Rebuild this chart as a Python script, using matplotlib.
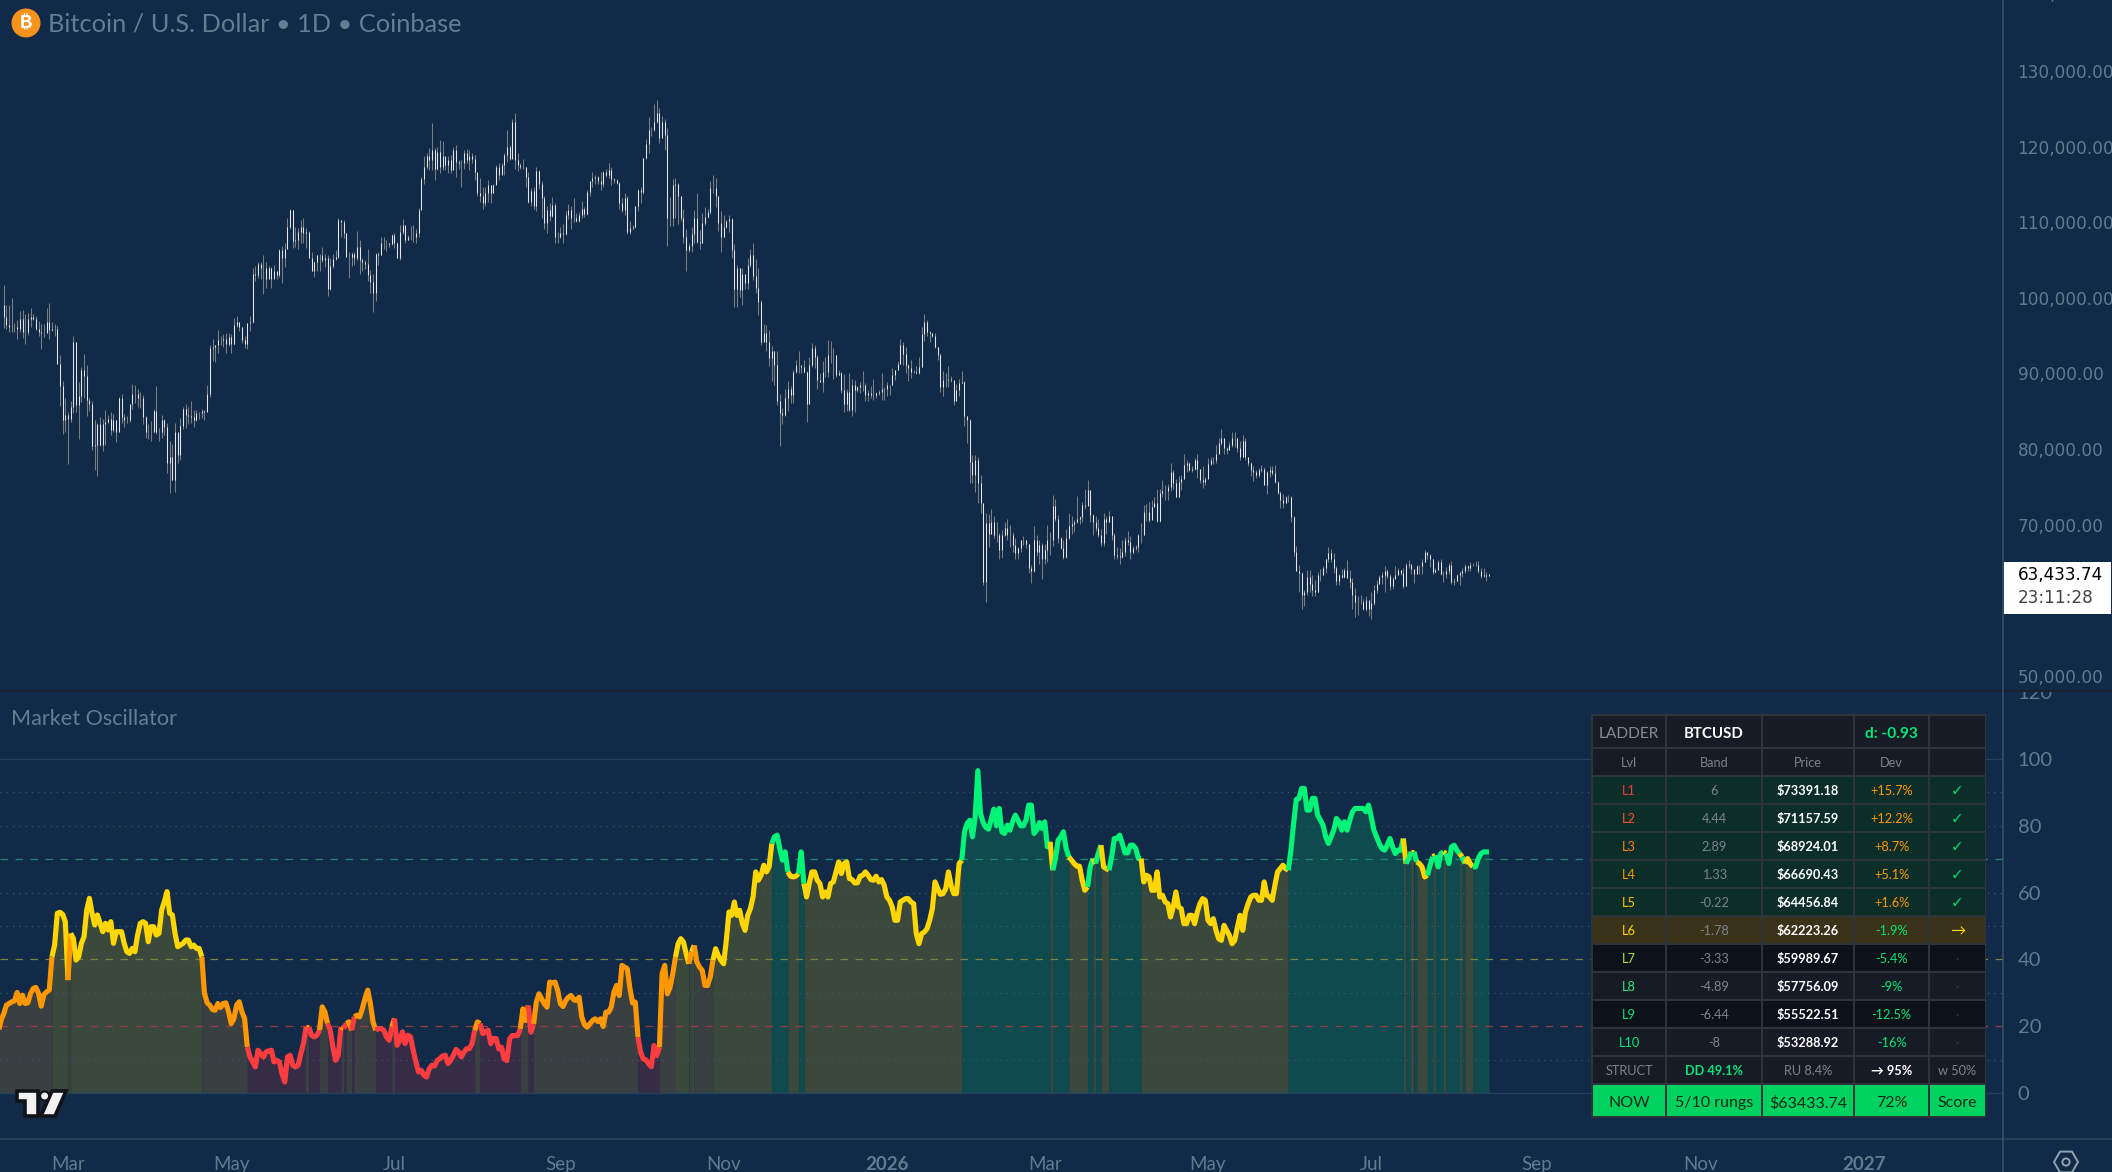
import datetime as dt
import numpy as np
import matplotlib
matplotlib.use("Agg")
import matplotlib.pyplot as plt
import matplotlib.dates as mdates
from matplotlib.patches import Rectangle, Circle, Polygon, RegularPolygon
from matplotlib.transforms import Bbox, TransformedBbox

W, H = 2112, 1172
BG = "#102a48"
UI = ["Lato", "DejaVu Sans"]

# daily bars in thousand USD
highs_a = [101.7,99.0,99.0,100.0,96.7,97.1,98.2,98.4,97.9,98.0,
98.7,97.8,97.6,96.9,96.5,96.6,98.6,99.3,96.8,96.5,
96.3,92.4,89.0,86.8,84.9,86.3,94.9,94.2,88.8,90.8,
92.6,91.1,86.7,86.3,83.8,83.4,84.2,84.0,85.1,84.5,
84.9,84.6,83.9,86.9,87.3,84.6,84.3,85.9,88.6,88.4,
88.0,87.6,87.2,84.3,83.3,83.7,85.3,88.3,82.8,84.5,
84.0,83.5,81.0,80.7,83.4,80.7,84.1,85.6,85.9,85.6,
86.3,85.2,85.2,84.9,85.3,85.1,88.4,93.7,94.5,93.8,
95.8,95.0,95.2,95.4,95.3,95.2,97.3,97.6,96.8,96.1,
95.0,96.7,97.6,104.0,104.2,104.8,104.8,105.6,104.8,104.2,
104.1,104.4,103.5,106.5,106.9,107.2,110.6,111.8,111.6,109.3,
109.2,110.3,110.6,109.2,108.8,106.1,104.9,105.7,105.8,106.7,
105.8,105.7,105.2,105.8,106.3,110.5,110.3,110.3,108.6,106.0,
106.0,106.0,108.8,107.6,105.3,105.0,106.4,103.7,103.2,105.9,
106.1,108.0,108.1,107.6,107.3,108.4,108.6,107.4,109.6,110.4,
109.5,108.3,109.5,109.6,109.1,111.9]
lows_a = [96.0,95.9,95.5,95.5,95.5,94.5,95.5,94.7,93.9,95.1,
96.1,97.1,95.8,95.0,93.2,94.8,96.2,94.5,95.6,95.0,
91.2,85.7,82.0,82.3,78.0,83.6,84.8,84.9,81.3,86.2,
86.8,84.3,85.0,79.9,77.2,76.4,80.4,79.7,80.5,83.4,
81.9,82.2,80.9,82.4,83.4,82.9,83.4,83.6,85.3,86.1,
85.5,85.4,83.3,81.5,81.3,81.1,82.2,82.0,81.1,81.5,
81.9,76.8,74.2,75.9,74.3,78.2,78.6,82.7,82.8,83.3,
83.4,82.9,83.7,84.0,84.1,83.8,84.9,86.9,91.7,91.5,
92.7,93.7,93.5,92.7,93.6,92.7,93.9,96.1,95.6,94.0,
93.3,93.2,95.6,96.7,102.2,102.6,102.5,100.5,101.3,102.5,
101.3,103.0,102.5,102.8,102.0,104.1,106.5,109.1,106.6,106.7,
106.4,107.3,107.3,106.6,105.2,103.5,102.8,103.5,103.5,104.7,
104.1,100.2,101.0,103.9,105.0,105.3,108.1,107.9,105.4,102.6,
104.2,104.4,105.0,103.1,103.5,103.8,102.2,100.7,98.1,99.6,
104.4,105.7,106.4,106.2,106.7,107.0,106.6,105.2,105.0,108.5,
107.2,107.6,107.6,107.4,107.3,108.1]
closes_a = [97.5,96.4,96.2,96.2,96.2,95.9,97.2,95.5,95.5,97.2,
97.5,97.2,95.9,95.5,95.3,95.3,96.8,95.7,95.9,95.9,
91.3,88.3,83.8,84.5,84.0,85.6,94.2,85.8,87.0,90.4,
89.6,86.5,86.0,80.4,80.5,83.3,80.5,83.3,83.6,84.0,
82.5,83.8,82.2,86.8,84.2,83.8,83.8,85.9,87.3,87.3,
86.7,86.7,84.2,82.3,82.3,82.3,85.0,82.2,82.2,83.8,
82.9,78.1,78.9,75.9,82.2,79.2,83.1,85.3,84.5,84.3,
84.2,83.8,84.7,84.7,85.0,84.9,87.3,93.3,93.5,93.7,
94.4,94.4,94.6,93.9,94.8,93.9,96.4,96.8,96.1,94.4,
93.9,96.7,96.8,103.2,103.0,104.5,103.9,103.9,102.5,103.9,
102.5,103.6,103.0,106.3,105.2,106.5,109.4,111.6,107.5,107.6,
108.7,109.3,108.6,108.7,105.3,103.6,104.7,105.6,105.6,105.0,
105.2,101.2,104.2,105.1,105.4,110.3,110.0,108.6,105.4,105.4,
105.8,105.2,106.7,105.0,104.7,104.5,103.0,102.1,100.6,105.8,
105.6,107.3,107.2,107.2,107.1,108.3,107.2,105.2,108.7,109.6,
107.7,108.0,108.0,108.0,108.6,111.6]

highs_b = [116.0,118.7,119.1,119.8,123.1,119.8,120.0,120.9,120.7,118.2,
118.7,118.9,120.0,120.2,118.2,118.2,119.5,119.7,119.5,119.1,
118.9,115.8,115.8,114.7,114.7,115.6,114.9,115.1,117.6,117.8,117.8]
lows_b = [112.0,115.1,117.1,116.9,116.9,115.6,116.9,116.5,116.9,116.9,
116.5,116.5,116.9,116.0,117.1,114.7,117.1,117.8,116.9,117.8,
115.6,113.4,112.7,111.8,112.1,112.7,112.5,113.8,115.1,115.6,116.5]
closes_b = [115.7,117.3,118.7,118.2,119.5,117.1,119.3,117.3,118.7,117.6,
118.2,116.9,119.5,118.0,117.8,117.8,119.1,118.2,118.7,118.4,
116.7,113.8,113.4,112.5,113.8,114.9,113.8,114.9,117.3,116.2,117.6]

highs_c = [119.1,122.2,120.2,123.7,124.4,119.1,117.8,118.4,117.3,116.6,
114.5,114.6,117.3,116.9,115.4,113.5,112.2,112.5,113.3,112.5,
108.7,109.3,109.8,111.5,112.4,112.1,113.2,111.2,111.4,112.8,
112.0,114.3,115.4,116.6,116.2,116.1,116.6,116.8,117.1,117.8,
117.3,115.9,115.7,115.3,113.2,113.8,113.5,110.2,109.6,112.2,
114.4,114.6,118.5,121.0,123.9,122.6,125.6,126.2,125.1,124.0,
123.7,122.4,113.3,115.7,115.9,115.2,113.4,111.8,109.1,107.3,
109.3,111.6,113.8,109.0,111.2,112.0,111.8,115.5,116.2,115.9,
113.5,111.5,111.0,110.3,111.0,110.5,107.1,104.3,104.0,103.9,
103.2,105.2,106.4,107.3,105.1,104.0,99.7,96.5,96.4,95.7,
93.6,92.9,93.0,87.3,85.4,87.9,89.0,88.3,90.4,91.8,
93.0,91.0,91.8,90.3,92.2,94.0,93.8,92.5,90.1,91.6,
92.2,94.4,94.3,93.3,92.4,90.5,90.2,89.9,87.9,90.1,
89.2,89.1,88.3,88.8,90.3,88.7,87.8,88.3,89.3,87.6,
87.8,90.1,88.2,88.9,88.5,90.7,90.5,91.6,94.6,94.2,
93.5,91.3,91.8,90.5,91.0,92.2,96.1,97.9,97.1,95.6,
95.4,95.3,93.5,92.7,90.3,90.0,91.0,89.6,88.9,88.6,
89.2,90.3,89.0,84.4,84.0,79.2,79.2,78.9,76.6,72.9,
71.5,71.4,72.0,71.1,70.3,68.9]
lows_c = [116.2,118.0,118.2,118.8,117.0,116.8,117.0,117.0,114.6,112.6,
112.2,111.7,111.5,114.4,110.5,109.1,108.6,110.1,110.7,107.3,
107.3,107.9,107.2,108.3,110.4,109.1,110.0,110.0,110.0,110.6,
110.7,110.9,113.4,114.7,115.1,115.1,114.3,114.6,116.0,115.8,
114.9,115.2,115.1,111.7,111.4,111.0,108.5,108.4,109.0,109.2,
111.5,112.6,113.7,118.3,119.1,121.4,122.1,123.1,120.5,121.1,
119.5,106.9,109.5,109.5,110.5,109.8,110.1,107.3,103.5,106.1,
106.0,107.2,107.3,106.5,107.3,109.6,110.6,111.1,113.8,112.0,
108.9,106.0,108.0,109.2,108.7,105.2,98.8,98.8,100.1,99.1,
101.2,101.2,104.1,102.3,100.7,97.7,93.8,94.1,92.9,91.0,
89.0,88.4,85.8,80.4,83.3,84.4,85.0,86.1,86.1,90.0,
90.1,90.1,90.1,83.6,85.9,90.9,90.7,88.0,88.8,87.6,
89.5,89.5,91.4,89.2,89.5,89.8,87.4,84.9,85.0,85.0,
84.3,84.9,87.6,87.4,87.7,86.3,86.3,86.8,86.5,86.7,
87.1,86.5,86.5,87.0,87.1,88.5,89.1,90.4,91.2,91.1,
90.0,89.0,89.4,90.0,89.9,89.9,90.8,94.3,95.0,94.1,
94.8,93.4,91.8,87.6,87.0,88.2,88.2,88.8,85.8,86.3,
87.0,88.7,83.1,80.8,75.5,75.5,74.3,72.8,71.6,62.0,
59.8,67.1,68.8,68.2,67.7,65.4]
closes_c = [118.9,120.0,118.4,123.3,118.2,117.6,117.3,117.3,116.0,112.7,
114.1,112.1,116.8,115.1,113.2,109.9,111.6,110.8,112.3,108.1,
108.1,108.6,108.5,111.0,111.6,110.5,110.5,110.1,111.0,111.8,
111.1,114.0,115.4,115.9,116.0,115.4,115.1,116.7,116.2,116.9,
115.7,115.6,115.2,112.5,111.6,113.2,108.7,109.2,109.4,112.1,
114.3,114.0,118.5,120.4,122.2,122.2,123.3,124.5,121.1,123.2,
121.5,110.5,110.5,114.9,115.1,113.4,110.6,108.1,106.3,106.8,
108.5,110.5,107.4,107.2,109.9,110.7,111.4,114.5,114.5,113.4,
109.9,108.1,109.4,110.1,110.4,106.3,101.2,103.9,101.0,103.1,
102.0,104.3,105.7,102.9,101.3,99.5,94.2,95.3,94.2,92.0,
92.9,91.1,86.3,84.7,84.5,86.7,88.0,87.1,90.2,91.1,
91.1,90.9,90.2,86.0,91.1,93.3,92.2,89.1,88.9,90.2,
90.2,92.4,92.4,92.4,89.8,90.0,87.8,86.0,87.6,85.2,
88.5,87.8,88.2,88.5,88.5,87.1,87.4,87.1,87.1,87.4,
87.6,88.0,88.0,88.5,88.5,89.8,90.4,91.3,93.8,92.6,
91.1,90.7,90.2,90.2,90.1,90.9,95.2,96.8,95.5,95.3,
95.0,93.5,92.4,88.2,89.1,89.1,89.2,89.1,86.3,87.8,
88.7,88.9,84.3,83.9,78.3,76.6,78.5,75.5,72.8,62.4,
70.2,68.8,70.4,68.6,68.6,66.6]

highs_d = [69.3,70.3,70.7,70.0,69.0,68.2,67.1,68.0,68.5,68.0,
67.4,64.7,69.8,68.6,68.0,67.6,67.4,69.9,69.0,73.9,
73.4,71.3,68.4,68.0,69.4,71.6,71.1,70.6,73.8,71.1,
73.0,74.7,75.9,74.6,71.4,71.1,70.8,69.4,71.6,71.1,
71.8,71.2,68.9,67.1,66.9,68.0,68.4,69.1,68.5,67.2,
67.3,68.8,70.2,72.6,72.7,73.0,73.3,73.6,74.7,74.7,
75.9,75.2,75.4,78.2,77.2,76.0,76.4,76.6,79.3,78.5,
78.3,77.7,78.8,79.3,77.3,77.8,76.3,78.8,78.9,79.0,
80.5,81.5,82.6,81.5,80.2,80.9,82.2,82.2,81.5,81.0,
81.9,81.4,79.0,78.3,77.7,77.2,77.5,77.9,77.6,77.1,
77.7,77.7,77.9,75.8,74.4,74.1,73.8,73.9,73.8,71.1,
67.2,64.6,63.7,61.3,64.0,64.0,63.3,62.7,63.7,64.1,
64.5,65.5,67.0,66.8,66.2,64.5,63.5,64.1,64.2,65.3,
64.0,62.9,61.6,60.5,60.7,60.2,60.5,60.0,61.1,62.0,
62.7,63.3,63.7,64.5,64.1,63.5,63.1,64.5,64.2,64.0,
64.2,64.9,65.3,64.7,64.1,64.7,64.7,65.5,66.7,66.4,
66.1,65.5,64.2,65.3,65.4,63.8,64.4,64.9,65.2,62.9,
63.5,63.9,64.2,64.8,64.7,65.1,64.9,65.2,65.2,64.2,
64.2,63.7,63.5]
lows_d = [65.6,68.5,67.9,67.1,66.4,65.5,65.4,66.4,67.3,66.9,
63.6,62.3,63.7,65.8,64.8,62.8,64.8,65.1,66.0,67.2,
70.5,67.6,66.8,65.5,65.6,68.1,68.8,69.0,70.2,70.1,
70.3,72.1,73.2,70.4,68.6,69.2,68.3,67.2,67.2,68.8,
70.3,68.0,65.4,65.4,64.8,65.6,65.8,67.3,65.5,66.1,
66.6,66.4,67.6,68.6,70.5,70.4,71.3,72.3,70.4,70.4,
73.7,73.3,73.2,74.4,74.7,73.6,73.6,74.6,76.0,76.9,
77.1,77.0,77.2,76.1,75.5,74.8,75.2,76.1,77.9,78.0,
78.1,79.6,80.5,79.4,79.4,79.9,80.3,80.3,79.6,78.5,
78.9,78.5,77.7,76.4,75.8,76.1,76.3,77.0,75.2,74.0,
76.3,76.6,75.5,74.0,72.2,72.2,72.9,73.0,70.4,65.8,
63.8,61.1,58.9,59.2,60.7,61.1,60.6,60.6,61.1,62.6,
63.3,63.6,65.1,65.1,63.6,62.0,62.0,63.0,62.9,62.9,
61.6,58.9,57.8,58.0,59.5,58.7,58.6,57.9,57.5,59.4,
61.0,62.2,62.2,61.1,62.9,61.3,61.5,62.8,63.4,63.3,
61.6,61.9,64.3,63.4,62.3,63.5,63.5,63.5,65.0,65.4,
64.4,63.5,63.6,64.0,63.3,62.4,63.0,63.4,62.1,62.0,
62.5,62.0,63.1,63.6,63.9,63.9,64.5,64.5,63.6,63.0,
63.1,62.5,63.3]
closes_d = [68.6,69.5,68.6,68.6,67.3,66.2,66.9,67.9,68.0,67.4,
64.2,63.8,67.9,66.4,67.3,65.5,66.6,68.0,68.0,72.4,
70.8,68.2,66.9,65.7,68.2,69.8,70.1,70.3,70.8,71.0,
72.6,72.4,74.6,71.3,70.4,69.5,68.6,67.5,70.8,70.3,
71.1,68.6,66.0,65.8,65.7,66.4,68.0,67.7,66.4,66.9,
67.1,68.6,68.6,71.7,71.7,70.6,72.3,72.9,70.5,74.2,
74.4,74.5,75.0,77.0,75.5,73.6,75.7,76.0,77.9,78.1,
77.2,77.3,78.5,77.3,75.9,75.7,76.0,78.0,78.5,78.6,
79.4,80.8,81.4,80.1,79.9,80.5,81.4,81.5,80.1,79.0,
81.0,78.9,78.1,77.2,77.0,76.6,77.2,77.3,75.2,77.0,
77.2,76.8,75.7,74.2,73.3,72.9,73.6,73.7,71.0,66.4,
63.8,63.6,60.7,61.1,63.1,62.2,61.3,61.1,63.3,63.3,
64.2,65.4,66.2,65.5,64.2,62.6,63.3,63.1,64.0,63.0,
62.4,60.7,59.8,59.7,59.7,58.9,60.0,58.9,59.6,61.3,
62.2,63.1,63.3,63.9,63.2,61.9,62.8,63.3,64.0,63.6,
61.9,64.7,64.8,64.1,63.5,64.5,64.5,65.1,66.4,66.0,
65.4,63.7,64.0,65.1,63.5,63.5,63.8,64.7,62.4,62.6,
63.3,63.6,63.9,64.5,64.2,64.7,64.7,64.7,63.8,63.2,
63.3,63.2,63.43]

# oscillator line, one value per bar
osc_a = [18.3,21.8,23.8,26.3,26.8,27.3,27.6,30.1,26.8,29.3,26.8,27.0,29.8,31.3,31.6,29.8,26.0,29.5,30.3,30.8,
40.8,44.3,53.8,54.1,53.5,51.3,33.8,47.8,46.3,39.8,40.8,44.8,46.8,54.8,58.3,53.8,50.3,53.3,50.8,48.3,
50.8,48.8,51.3,44.8,48.3,48.3,48.3,44.8,42.3,41.8,43.3,42.3,47.3,50.8,51.3,50.8,45.3,49.8,49.8,47.3,
47.8,54.8,57.3,60.3,53.8,53.3,47.8,43.8,44.3,44.8,45.8,45.8,43.8,44.3,43.3,43.3,40.8,29.8,27.0,26.3,
25.0,24.8,26.8,25.6,26.8,27.0,24.3,20.8,22.3,26.3,27.3,24.3,22.3,13.8,10.8,9.3,7.8,12.8,11.8,10.8,
12.3,12.6,12.8,9.3,9.8,9.3,5.8,3.3,10.8,11.3,8.3,7.8,8.3,11.8,14.8,19.8,19.8,17.3,16.8,17.3,
18.8,25.8,24.3,20.8,18.8,13.8,9.8,11.3,19.8,19.3,20.8,21.3,18.8,22.8,23.3,22.8,25.3,28.3,30.8,26.8,
21.3,18.8,19.3,19.3,18.8,16.8,15.8,19.8,22.3,14.3,15.8,18.3,14.8,17.3,16.8,12.8,9.3,6.3,6.8,5.3,
4.8,7.3,8.3,8.1,9.8,10.3,11.1,11.3,8.8,9.8,11.3,13.0,12.3,10.8,12.3,13.3,13.3,14.8,18.8,21.3,
20.8,17.8,18.3,18.8,14.8,16.3,16.3]
osc_b = [13.2,13.7,10.2,9.7,16.2,17.2,17.2,17.2,19.2,25.2,21.7,26.2,18.2,20.7,27.2,29.7,28.2,26.7,25.7,33.2,
33.0,33.2,30.7,26.7,25.9,27.7,28.7,29.2,27.9,27.7,28.7,22.7,20.5,19.7,20.7,21.7,22.2,21.4,22.2,19.9,
24.2,24.2,25.7,30.2,32.2,29.2,38.2,37.7,37.2,31.2,26.9,27.2,16.7,12.2,10.2,9.9,8.7,7.9,14.2,11.2,
13.7,35.7,38.2,29.7,31.7,35.7,40.7,44.7,46.2,45.2,41.7,38.7,42.2,44.2,39.2,37.7,36.7,32.2,32.2,34.7,
39.7,43.2,41.2,39.7,38.7,45.7,54.2,53.2,57.2,53.2,54.7,50.7,48.7,53.2,55.2,58.7,66.2,63.7,65.2,68.2,
66.2,67.7,74.7,76.7,77.2,73.2,69.7,72.2,66.2,64.9,64.7,64.9,65.7,72.2,62.7,58.7,62.7,66.2,66.2,63.7,
62.7,58.7,60.2,58.7,62.7,63.2,66.2,69.2,65.7,68.7,69.2,64.2,63.9,62.9,62.9,64.9,65.2,66.2,65.2,63.9,
63.7,64.9,63.2,63.9,62.2,58.7,57.7,55.7,51.7,51.7,57.2,57.7,58.2,58.2,57.2,56.7,47.7,44.7,47.7,48.2,
49.2,51.7,55.2,63.2,61.2,59.5,59.7,61.2,66.2,62.2,59.7,59.7,68.7,69.7,78.2,80.7,81.7,76.7,82.7]
osc_peak = [96.5,83.7,81.0,79.5,79.0,82.0,85.0,80.0]
osc_c = [85.2,78.2,77.7,80.2,78.7,81.2,83.2,81.7,80.0,80.0,81.7,86.2,86.2,77.7,78.7,81.0,79.2,81.2,73.7,75.2,
66.7,70.2,75.7,76.7,78.2,73.2,70.7,69.7,68.7,67.9,67.9,63.7,60.7,61.7,67.7,70.2,68.7,71.7,74.2,67.7,
67.2,66.7,70.7,76.2,76.2,77.2,74.7,71.9,71.9,74.2,74.2,73.2,70.2,70.2,63.2,65.2,64.7,60.7,60.7,66.2,
58.7,59.2,57.2,56.7,52.7,55.7,60.2,55.7,55.2,50.7,50.7,53.2,53.2,50.7,54.2,56.7,58.2,57.7,51.7,50.7,
52.2,48.7,46.2,45.7,50.2,48.7,47.2,44.7,45.7,49.7,53.2,48.7,54.2,56.7,58.7,59.2,59.2,57.7,57.7,63.2,
59.2,58.7,57.7,62.2,66.2,67.2,68.2,67.2,66.7,72.7,80.7,87.9,88.2,91.2,91.2,84.7,84.7,88.2,88.2,83.2,
81.7,80.2,76.7,74.7,76.7,78.7,82.2,81.2,78.7,81.2,78.7,81.7,84.2,85.2,85.2,85.2,85.2,84.2,86.2,82.7,
78.7,76.7,74.7,73.2,72.7,74.2,76.2,73.7,71.7,72.7,72.7,76.2,68.7,70.2,72.2,72.2,69.2,68.7,67.7,64.7,
65.2,68.2,70.7,71.2,67.7,71.7,72.2,71.7,68.7,73.7,74.2,72.7,71.7,70.7,68.7,70.2,68.7,67.7,67.7,70.2,
71.7,72.2,72.2,72.2]

# first bar of each colour state, counted on the 556 bars of the axis
zone_starts = [0,19,25,26,75,92,114,115,119,122,127,128,129,131,132,140,146,147,177,179,194,197,199,238,246,
252,257,258,259,266,288,294,298,300,359,392,393,399,406,408,409,411,414,426,481,524,525,527,528,529,533,535,
536,539,540,545,546,547,550]
zone_names = ["orange","yellow","orange","yellow","orange","red","orange","red","orange","red","orange","red",
"orange","red","orange","red","orange","red","orange","red","orange","red","orange","red","orange",
"yellow","orange","yellow","orange","yellow","green","yellow","green","yellow","green","yellow","green",
"yellow","green","yellow","green","yellow","green","yellow","green","yellow","green","yellow","green",
"yellow","green","yellow","green","yellow","green","yellow","green","yellow","green"]
line_colors = {"red": "#ff3d40", "orange": "#ff9800", "yellow": "#ffd600", "green": "#00f578"}
fill_colors = {"red": "#372c46", "orange": "#3a3f41", "yellow": "#3a493c", "green": "#0f4b4e"}

price_ticks = [50000, 70000, 80000, 90000, 100000, 110000, 120000, 130000]
osc_ticks = [0, 20, 40, 60, 80, 100, 120]
dotted_levels = [90, 80, 60, 50, 30, 10]
dotted_colors = ["#27605f", "#27605f", "#3c5a70", "#3c5a70", "#3f5968", "#43506a"]
dashed_levels = [70, 40, 20]
dashed_colors = ["#1f8a72", "#7d8440", "#9c3a40"]
tick_dates = [dt.date(2025,3,1), dt.date(2025,5,1), dt.date(2025,7,1), dt.date(2025,9,1), dt.date(2025,11,1),
              dt.date(2026,1,1), dt.date(2026,3,1), dt.date(2026,5,1), dt.date(2026,7,1), dt.date(2026,9,1),
              dt.date(2026,11,1), dt.date(2027,1,1)]
tick_labels = ["Mar", "May", "Jul", "Sep", "Nov", "2026", "Mar", "May", "Jul", "Sep", "Nov", "2027"]
last_day = dt.date(2026, 8, 14)

# table text
header_row = ["LADDER", "BTCUSD", "", "d: -0.93", ""]
column_row = ["Lvl", "Band", "Price", "Dev", ""]
levels = ["L1","L2","L3","L4","L5","L6","L7","L8","L9","L10"]
level_colors = ["#f23a3a","#ff5230","#ff7a1a","#ff9800","#ffc400","#ffd600","#a5e045","#2ee882","#00e676","#00e676"]
bands = ["6","4.44","2.89","1.33","-0.22","-1.78","-3.33","-4.89","-6.44","-8"]
prices = ["$73391.18","$71157.59","$68924.01","$66690.43","$64456.84","$62223.26","$59989.67","$57756.09","$55522.51","$53288.92"]
devs = ["+15.7%","+12.2%","+8.7%","+5.1%","+1.6%","-1.9%","-5.4%","-9%","-12.5%","-16%"]
marks = ["✓","✓","✓","✓","✓","→","·","·","·","·"]
struct_row = ["STRUCT", "DD 49.1%", "RU 8.4%", "→ 95%", "w 50%"]
now_row = ["NOW", "5/10 rungs", "$63433.74", "72%", "Score"]

highs = np.array(highs_a + highs_b + highs_c + highs_d) * 1000
lows = np.array(lows_a + lows_b + lows_c + lows_d) * 1000
closes = np.array(closes_a + closes_b + closes_c + closes_d) * 1000
opens = np.r_[closes[0] + 1500, closes[:-1]]
osc = np.array(osc_a + osc_b + osc_peak + osc_c)

last_num = mdates.date2num(last_day)
bar_x = last_num - np.arange(len(closes))[::-1]
osc_x = last_num - np.arange(len(osc))[::-1]
shift = len(osc) - 556  # the line list runs a little past the first bar on the axis

mar1 = mdates.date2num(dt.date(2025, 3, 1))
xmin, xmax = mar1 - 68 / 2.676, mar1 + (2003 - 68) / 2.676

fig = plt.figure(figsize=(W / 100, H / 100), dpi=100, facecolor=BG)
ax1 = fig.add_axes([0, (H - 691) / H, 2003 / W, 691 / H], facecolor=BG)
ax2 = fig.add_axes([0, (H - 1139) / H, 2003 / W, (1139 - 692) / H], facecolor=BG)
ov = fig.add_axes([0, 0, 1, 1])
ov.set_xlim(0, W)
ov.set_ylim(H, 0)
ov.axis("off")

# price pane
ax1.vlines(bar_x, lows, highs, color="#7c7f82", lw=0.75)
ax1.vlines(bar_x, np.minimum(opens, closes), np.maximum(opens, closes), color="#e6e6e6", lw=0.75)
ax1.yaxis.tick_right()
ax1.set_yticks(price_ticks, [f"{v:,.2f}" for v in price_ticks])
ax1.tick_params(axis="y", length=0, pad=10.5, labelsize=12.2, labelcolor="#5f7d8f")
ax1.set_xticks([])
ax1.set_xlim(xmin, xmax)
ax1.set_ylim(47989, 139392)
# 140,000 sits just over the top edge of the window, only its foot shows
ov.text(2018, -4.6, "140,000.00", color="#5f7d8f", fontsize=12.2, va="center", family="DejaVu Sans", clip_on=False)

# oscillator pane
for k, lev in enumerate(dotted_levels):
    ax2.axhline(lev, color=dotted_colors[k], lw=0.9, ls=(0, (1, 4)), zorder=3)
for k, lev in enumerate(dashed_levels):
    ax2.axhline(lev, color=dashed_colors[k], lw=0.9, ls=(0, (6, 6)), zorder=3)
for lev in [100, 0]:
    ax2.axhline(lev, color="#24425f", lw=1.0, zorder=3)
for k, start in enumerate(zone_starts):
    end = zone_starts[k + 1] + shift if k + 1 < len(zone_starts) else len(osc)
    s = start + shift - 1 if start > 0 else 0
    ax2.fill_between(osc_x[s:end], 0, osc[s:end], color=fill_colors[zone_names[k]], lw=0, zorder=2)
    ax2.plot(osc_x[s:end], osc[s:end], color=line_colors[zone_names[k]], lw=3.7,
             solid_capstyle="butt", solid_joinstyle="round", zorder=5 + k * 0.001)
ax2.yaxis.tick_right()
ax2.set_yticks(osc_ticks, [str(v) for v in osc_ticks])
ax2.tick_params(axis="y", length=0, pad=10.5, labelsize=14.5, labelcolor="#5f7d8f")
clip = TransformedBbox(Bbox([[0, 0], [1, (H - 692) / H]]), fig.transFigure)
for lab in ax2.get_yticklabels():
    lab.set_family(UI)
    lab.set_clip_box(clip)
    lab.set_clip_on(True)
ax2.set_xticks([mdates.date2num(d) for d in tick_dates], tick_labels)
ax2.tick_params(axis="x", length=0, pad=12, labelsize=13.5, labelcolor="#5f7d8f")
for k, lab in enumerate(ax2.get_xticklabels()):
    lab.set_family(UI)
    if tick_labels[k].startswith("20"):
        lab.set_fontweight("bold")
ax2.set_xlim(xmin, xmax)
ax2.set_ylim(-13.77, 120.06)
for ax in (ax1, ax2):
    for sp in ax.spines.values():
        sp.set_visible(False)

# pane borders
ov.hlines(691, 0, W, color="#1a2230", lw=1.6)
ov.hlines(1139, 0, W, color="#2e4862", lw=1.1)
ov.vlines(2003, 0, H, color="#3b5269", lw=1.1)

# header and icons
ov.add_patch(Circle((26, 23), 14.5, color="#f7931a", lw=0))
ov.text(26, 23, "₿", color="white", ha="center", va="center", fontsize=13.5, fontweight="bold",
        family=["Inter", "Noto Sans", "Roboto", "Open Sans", "DejaVu Sans"])
ov.text(48, 24, "Bitcoin / U.S. Dollar • 1D • Coinbase", color="#5f7f92", fontsize=18.3, va="center", family=UI)
ov.text(11, 719, "Market Oscillator", color="#5f7f92", fontsize=15.6, va="center", family=UI)

# last price label
ov.add_patch(Rectangle((2003.5, 562), 107, 51.5, color="white", lw=0))
ov.text(2018, 575, "63,433.74", color="black", fontsize=12.2, va="center", family="DejaVu Sans")
ov.text(2018, 598, "23:11:28", color="#444444", fontsize=12.2, va="center", family="DejaVu Sans")

# settings icon
ov.add_patch(RegularPolygon((2066, 1162), 6, radius=12, orientation=np.pi / 2, fill=False, ec="#8fa3b0", lw=1.4))
ov.add_patch(Circle((2066, 1162), 3.6, fill=False, ec="#8fa3b0", lw=1.4))

# TradingView mark
logo = dict(fc="#f2f2f2", ec="#111318", lw=2.6, joinstyle="miter", zorder=6)
ov.add_patch(Polygon([(17, 1091), (38, 1091), (38, 1116), (25, 1116), (25, 1101), (17, 1101)], **logo))
ov.add_patch(Polygon([(52, 1091), (66, 1091), (55, 1116), (41, 1116)], **logo))
ov.add_patch(Circle((44.6, 1096), 4.6, fc="#f2f2f2", ec="#111318", lw=1.6, zorder=6))

# table
col_l = [1593.2, 1667.1, 1762.9, 1855.2, 1929.8]
col_r = [1665, 1761.2, 1853, 1928, 1985]
row_t = [715.7, 749, 777, 805, 833, 861, 889, 917, 945, 973, 1001, 1029, 1057, 1085]
row_b = [747, 775, 803, 831, 859, 887, 915, 943, 971, 999, 1027, 1055, 1083, 1116]
row_fill = ["#161b26", "#161b26"] + ["#0c2e28"] * 5 + ["#3a3219", "#0d1119", "#161b26", "#0d1119", "#161b26", "#161b26", "#00d25f"]
ov.add_patch(Rectangle((1591.4, 714.3), 395, 403.4, fc="#2f333b", lw=0, zorder=7))
for r in range(14):
    for c in range(5):
        ov.add_patch(Rectangle((col_l[c], row_t[r]), col_r[c] - col_l[c], row_b[r] - row_t[r],
                               fc=row_fill[r], lw=0, zorder=8))


def cell(r, c, txt, color, size=8.9, weight="normal"):
    nudge = 2.5 if r in (0, 13) else 1.2
    ov.text((col_l[c] + col_r[c]) / 2, (row_t[r] + row_b[r]) / 2 + nudge, txt, color=color, fontsize=size,
            fontweight=weight, ha="center", va="center", family=UI, zorder=9)


cell(0, 0, header_row[0], "#868c96", 11.2)
cell(0, 1, header_row[1], "#ffffff", 10.8, "bold")
cell(0, 3, header_row[3], "#00e676", 11.2, "bold")
for c in range(4):
    cell(1, c, column_row[c], "#7d828c", 9.2)
for i in range(10):
    r = i + 2
    cell(r, 0, levels[i], level_colors[i], 9.2)
    cell(r, 1, bands[i], "#7d828c", 9.2)
    cell(r, 2, prices[i], "#ffffff", 9.2, "bold")
    cell(r, 3, devs[i], "#ff9800" if devs[i].startswith("+") else "#00e676", 9.2)
    if i < 5:
        cell(r, 4, marks[i], "#00d96a", 11)
    elif i == 5:
        cell(r, 4, marks[i], "#ffd600", 11)
    else:
        cell(r, 4, marks[i], "#333842", 9)
cell(12, 0, struct_row[0], "#7d828c", 9.2)
cell(12, 1, struct_row[1], "#00e676", 9.2, "bold")
cell(12, 2, struct_row[2], "#7d828c", 9.2)
cell(12, 3, struct_row[3], "#ffffff", 9.2, "bold")
cell(12, 4, struct_row[4], "#7d828c", 9.2)
for c in range(5):
    cell(13, c, now_row[c], "#0c2a1c", 11.5)

fig.savefig("out.png", dpi=100, facecolor=BG)
